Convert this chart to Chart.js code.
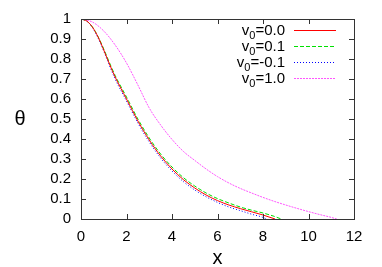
<!DOCTYPE html>
<html>
<head>
<meta charset="utf-8">
<script src="https://cdn.jsdelivr.net/npm/chart.js@4"></script>
<style>
  html, body { margin: 0; padding: 0; background: #fff; }
  #wrap { width: 382px; height: 267px; }
</style>
</head>
<body>
<div id="wrap"><canvas id="chart" width="382" height="267"></canvas></div>
<script>
// values
const xRed = [0, 0.25, 0.5, 0.75, 1, 1.25, 1.5, 2, 2.5, 3, 3.5, 4, 4.5, 5, 5.5, 6, 6.5, 7, 7.5, 8, 8.53];
const thetaRed = [1, 0.99, 0.96, 0.91, 0.845, 0.775, 0.71, 0.6, 0.49, 0.395, 0.315, 0.25, 0.197, 0.155, 0.12, 0.092, 0.07, 0.052, 0.036, 0.02, 0];

const xGreen = [0, 0.25, 0.5, 0.75, 1, 1.25, 1.5, 2, 2.5, 3, 3.5, 4, 4.5, 5, 5.5, 6, 6.5, 7, 7.5, 8, 8.5, 8.8];
const thetaGreen = [1, 0.99, 0.96, 0.912, 0.85, 0.782, 0.718, 0.61, 0.5, 0.405, 0.325, 0.26, 0.207, 0.165, 0.13, 0.102, 0.08, 0.06, 0.044, 0.03, 0.013, 0];

const xBlue = [0, 0.25, 0.5, 0.75, 1, 1.25, 1.5, 2, 2.5, 3, 3.5, 4, 4.5, 5, 5.5, 6, 6.5, 7, 7.5, 8, 8.16];
const thetaBlue = [1, 0.99, 0.958, 0.905, 0.84, 0.768, 0.7, 0.59, 0.48, 0.385, 0.305, 0.24, 0.187, 0.145, 0.111, 0.083, 0.06, 0.042, 0.024, 0.008, 0];

const xPink = [0, 0.5, 1, 1.5, 2, 2.5, 3, 3.5, 4, 4.5, 5, 5.5, 6, 6.5, 7, 7.5, 8, 8.5, 9, 9.5, 10, 10.5, 11, 11.24];
const thetaPink = [1, 0.985, 0.94, 0.87, 0.78, 0.67, 0.555, 0.47, 0.398, 0.338, 0.293, 0.25, 0.212, 0.18, 0.153, 0.13, 0.108, 0.088, 0.07, 0.053, 0.037, 0.022, 0.008, 0];

const v0Labels = ["0.0", "0.1", "-0.1", "1.0"];
const xTicks = [0, 2, 4, 6, 8, 10, 12];
const yTicks = [0, 0.1, 0.2, 0.3, 0.4, 0.5, 0.6, 0.7, 0.8, 0.9, 1];

const FONT = "'Liberation Sans', Arial, sans-serif";

const toPoints = (xs, ys) => xs.map((x, i) => ({ x: x, y: ys[i] }));

const series = [
  { xs: xRed, ys: thetaRed, color: "#ff0000", dash: [] },
  { xs: xGreen, ys: thetaGreen, color: "#00e000", dash: [4, 2] },
  { xs: xBlue, ys: thetaBlue, color: "#0000ff", dash: [1, 2] },
  { xs: xPink, ys: thetaPink, color: "#ff55ff", dash: [2, 1] },
];

// border, inward ticks (mirrored), axis titles and gnuplot-like key
const decor = {
  id: "decor",
  afterDraw(chart) {
    const ctx = chart.ctx;
    const a = chart.chartArea;
    const sx = chart.scales.x, sy = chart.scales.y;
    const tl = 5;
    ctx.save();
    ctx.strokeStyle = "#333";
    ctx.lineWidth = 1;
    ctx.beginPath();
    xTicks.forEach(v => {
      const p = Math.round(sx.getPixelForValue(v)) + 0.5;
      ctx.moveTo(p, a.bottom); ctx.lineTo(p, a.bottom - tl);
      ctx.moveTo(p, a.top); ctx.lineTo(p, a.top + tl);
    });
    yTicks.forEach(v => {
      const p = Math.round(sy.getPixelForValue(v)) + 0.5;
      ctx.moveTo(a.left, p); ctx.lineTo(a.left + tl, p);
      ctx.moveTo(a.right, p); ctx.lineTo(a.right - tl, p);
    });
    ctx.stroke();
    ctx.strokeRect(Math.round(a.left) + 0.5, Math.round(a.top) + 0.5,
      Math.round(a.right - a.left), Math.round(a.bottom - a.top));

    // axis titles
    ctx.fillStyle = "#000";
    ctx.textAlign = "center";
    ctx.textBaseline = "middle";
    ctx.font = "20px " + FONT;
    ctx.fillText("x", (a.left + a.right) / 2, 258);
    ctx.fillText("\u03b8", 20, (a.top + a.bottom) / 2);

    // key
    const textRight = 285, lineL = 294, lineR = 336;
    chart.data.datasets.forEach((ds, i) => {
      const y = 30 + i * 15.9;
      const rest = "=" + v0Labels[i];
      ctx.font = "15px " + FONT;
      const wv = ctx.measureText("v").width;
      const wr = ctx.measureText(rest).width;
      ctx.font = "11px " + FONT;
      const ws = ctx.measureText("0").width;
      let x0 = textRight - (wv + ws + wr);
      ctx.textAlign = "left";
      ctx.textBaseline = "alphabetic";
      ctx.font = "15px " + FONT;
      ctx.fillText("v", x0, y + 5);
      ctx.font = "11px " + FONT;
      ctx.fillText("0", x0 + wv, y + 9);
      ctx.font = "15px " + FONT;
      ctx.fillText(rest, x0 + wv + ws, y + 5);

      ctx.strokeStyle = ds.borderColor;
      ctx.setLineDash(ds.borderDash || []);
      ctx.beginPath();
      ctx.moveTo(lineL, Math.round(y) + 0.5);
      ctx.lineTo(lineR, Math.round(y) + 0.5);
      ctx.stroke();
      ctx.setLineDash([]);
    });
    ctx.restore();
  }
};

new Chart(document.getElementById("chart"), {
  type: "line",
  data: {
    datasets: series.map((s, i) => ({
      label: "v0=" + v0Labels[i],
      data: toPoints(s.xs, s.ys),
      borderColor: s.color,
      borderDash: s.dash,
      borderWidth: 1,
      pointRadius: 0,
      fill: false,
      cubicInterpolationMode: "monotone",
    })),
  },
  plugins: [decor],
  options: {
    responsive: false,
    animation: false,
    layout: { padding: { top: 19, right: 28, left: 0, bottom: 0 } },
    plugins: { legend: { display: false }, tooltip: { enabled: false } },
    scales: {
      x: {
        type: "linear",
        min: 0, max: 12,
        afterFit: s => { s.height = 48; },
        afterBuildTicks: s => { s.ticks = xTicks.map(v => ({ value: v })); },
        grid: { display: false, drawTicks: false },
        border: { display: false },
        ticks: { color: "#000", padding: 9, autoSkip: false, maxRotation: 0, font: { family: FONT, size: 15 } },
      },
      y: {
        type: "linear",
        min: 0, max: 1,
        afterFit: s => { s.width = 81; },
        afterBuildTicks: s => { s.ticks = yTicks.map(v => ({ value: v })); },
        grid: { display: false, drawTicks: false },
        border: { display: false },
        ticks: {
          color: "#000", padding: 10, autoSkip: false, font: { family: FONT, size: 15 },
          callback: v => String(+v.toFixed(1)),
        },
      },
    },
  },
});
</script>
</body>
</html>
